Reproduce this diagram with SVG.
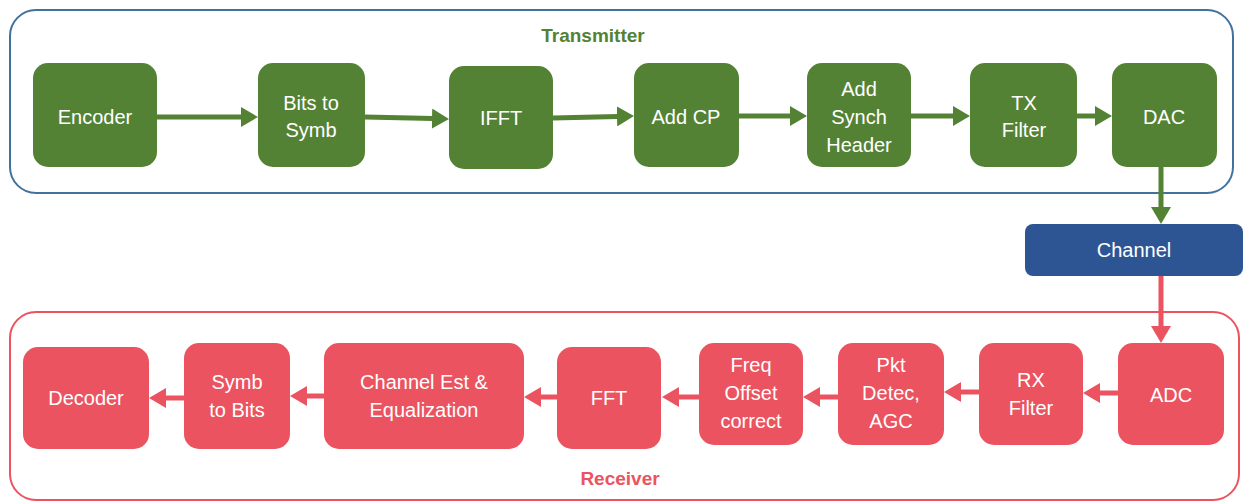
<svg xmlns="http://www.w3.org/2000/svg" width="1244" height="501" viewBox="0 0 1244 501">
<defs>
<style>
.frame{fill:none;}
.tx{fill:#548235;}
.rx{fill:#EB5360;}
.ch{fill:#2E5593;}
.lbl{font-family:"Liberation Sans",Arial,sans-serif;font-size:20px;fill:#FFFFFF;text-anchor:middle;}
.title{font-family:"Liberation Sans",Arial,sans-serif;font-size:19px;font-weight:bold;text-anchor:middle;}
.ga{stroke:#548235;stroke-width:5;fill:none;marker-end:url(#ag);}
.ra{stroke:#EB5360;stroke-width:5;fill:none;marker-end:url(#ar);}
</style>
<marker id="ag" markerUnits="userSpaceOnUse" markerWidth="18" markerHeight="20" refX="1" refY="10" orient="auto" viewBox="0 0 18 20"><path d="M0,0 L17,10 L0,20 z" fill="#548235"/></marker>
<marker id="ar" markerUnits="userSpaceOnUse" markerWidth="18" markerHeight="20" refX="1" refY="10" orient="auto" viewBox="0 0 18 20"><path d="M0,0 L17,10 L0,20 z" fill="#EB5360"/></marker>
</defs>
<rect width="1244" height="501" fill="#FFFFFF"/>

<g id="transmitter-frame">
<rect class="frame" x="10" y="10" width="1223" height="183" rx="26" stroke="#41719C" stroke-width="2"/>
<text class="title" x="593" y="42" fill="#548235">Transmitter</text>
</g>
<g id="receiver-frame">
<rect class="frame" x="10" y="312" width="1229" height="188" rx="26" stroke="#EB5360" stroke-width="2"/>
<text class="title" x="620" y="485" fill="#EB5360">Receiver</text>
</g>

<g id="connectors">
<path class="ga" d="M157,117 L242,117"/>
<path class="ga" d="M365,117 L433,118.6"/>
<path class="ga" d="M553,118 L618,116.4"/>
<path class="ga" d="M739,116 L791,116"/>
<path class="ga" d="M911,116 L954,116"/>
<path class="ga" d="M1077,116 L1096,116"/>
<path class="ga" d="M1161,167 L1161,208"/>
<path class="ra" d="M1161,276 L1161,327"/>
<path class="ra" d="M1118,393 L1099,393"/>
<path class="ra" d="M979,392 L960,392"/>
<path class="ra" d="M838,397 L819,397"/>
<path class="ra" d="M699,397 L678,397"/>
<path class="ra" d="M557,397 L540,397"/>
<path class="ra" d="M324,396 L306,396"/>
<path class="ra" d="M184,398 L165,398"/>
</g>

<g id="encoder"><rect class="tx" x="33" y="63" width="124" height="104" rx="15"/><text class="lbl" x="95" y="124">Encoder</text></g>
<g id="bits-to-symb"><rect class="tx" x="258" y="63" width="107" height="104" rx="15"/><text class="lbl" x="311" y="110">Bits to</text><text class="lbl" x="311" y="137">Symb</text></g>
<g id="ifft"><rect class="tx" x="449" y="66" width="104" height="103" rx="15"/><text class="lbl" x="501" y="125">IFFT</text></g>
<g id="add-cp"><rect class="tx" x="634" y="63" width="105" height="104" rx="15"/><text class="lbl" x="686" y="124">Add CP</text></g>
<g id="add-synch-header"><rect class="tx" x="807" y="63" width="104" height="104" rx="15"/><text class="lbl" x="859" y="96">Add</text><text class="lbl" x="859" y="124">Synch</text><text class="lbl" x="859" y="152">Header</text></g>
<g id="tx-filter"><rect class="tx" x="970" y="63" width="107" height="104" rx="15"/><text class="lbl" x="1024" y="110">TX</text><text class="lbl" x="1024" y="137">Filter</text></g>
<g id="dac"><rect class="tx" x="1112" y="63" width="105" height="104" rx="15"/><text class="lbl" x="1164" y="124">DAC</text></g>

<g id="channel"><rect class="ch" x="1025" y="224" width="218" height="52" rx="8"/><text class="lbl" x="1134" y="257">Channel</text></g>

<g id="adc"><rect class="rx" x="1118" y="343" width="106" height="102" rx="15"/><text class="lbl" x="1171" y="402">ADC</text></g>
<g id="rx-filter"><rect class="rx" x="979" y="343" width="104" height="102" rx="15"/><text class="lbl" x="1031" y="387">RX</text><text class="lbl" x="1031" y="415">Filter</text></g>
<g id="pkt-detec-agc"><rect class="rx" x="838" y="343" width="106" height="102" rx="15"/><text class="lbl" x="891" y="372">Pkt</text><text class="lbl" x="891" y="400">Detec,</text><text class="lbl" x="891" y="428">AGC</text></g>
<g id="freq-offset-correct"><rect class="rx" x="699" y="343" width="104" height="102" rx="15"/><text class="lbl" x="751" y="372">Freq</text><text class="lbl" x="751" y="400">Offset</text><text class="lbl" x="751" y="428">correct</text></g>
<g id="fft"><rect class="rx" x="557" y="347" width="104" height="102" rx="15"/><text class="lbl" x="609" y="405">FFT</text></g>
<g id="channel-est-equalization"><rect class="rx" x="324" y="343" width="200" height="106" rx="15"/><text class="lbl" x="424" y="389">Channel Est &amp;</text><text class="lbl" x="424" y="417">Equalization</text></g>
<g id="symb-to-bits"><rect class="rx" x="184" y="343" width="106" height="106" rx="15"/><text class="lbl" x="237" y="389">Symb</text><text class="lbl" x="237" y="417">to Bits</text></g>
<g id="decoder"><rect class="rx" x="23" y="347" width="126" height="102" rx="15"/><text class="lbl" x="86" y="405">Decoder</text></g>
</svg>
